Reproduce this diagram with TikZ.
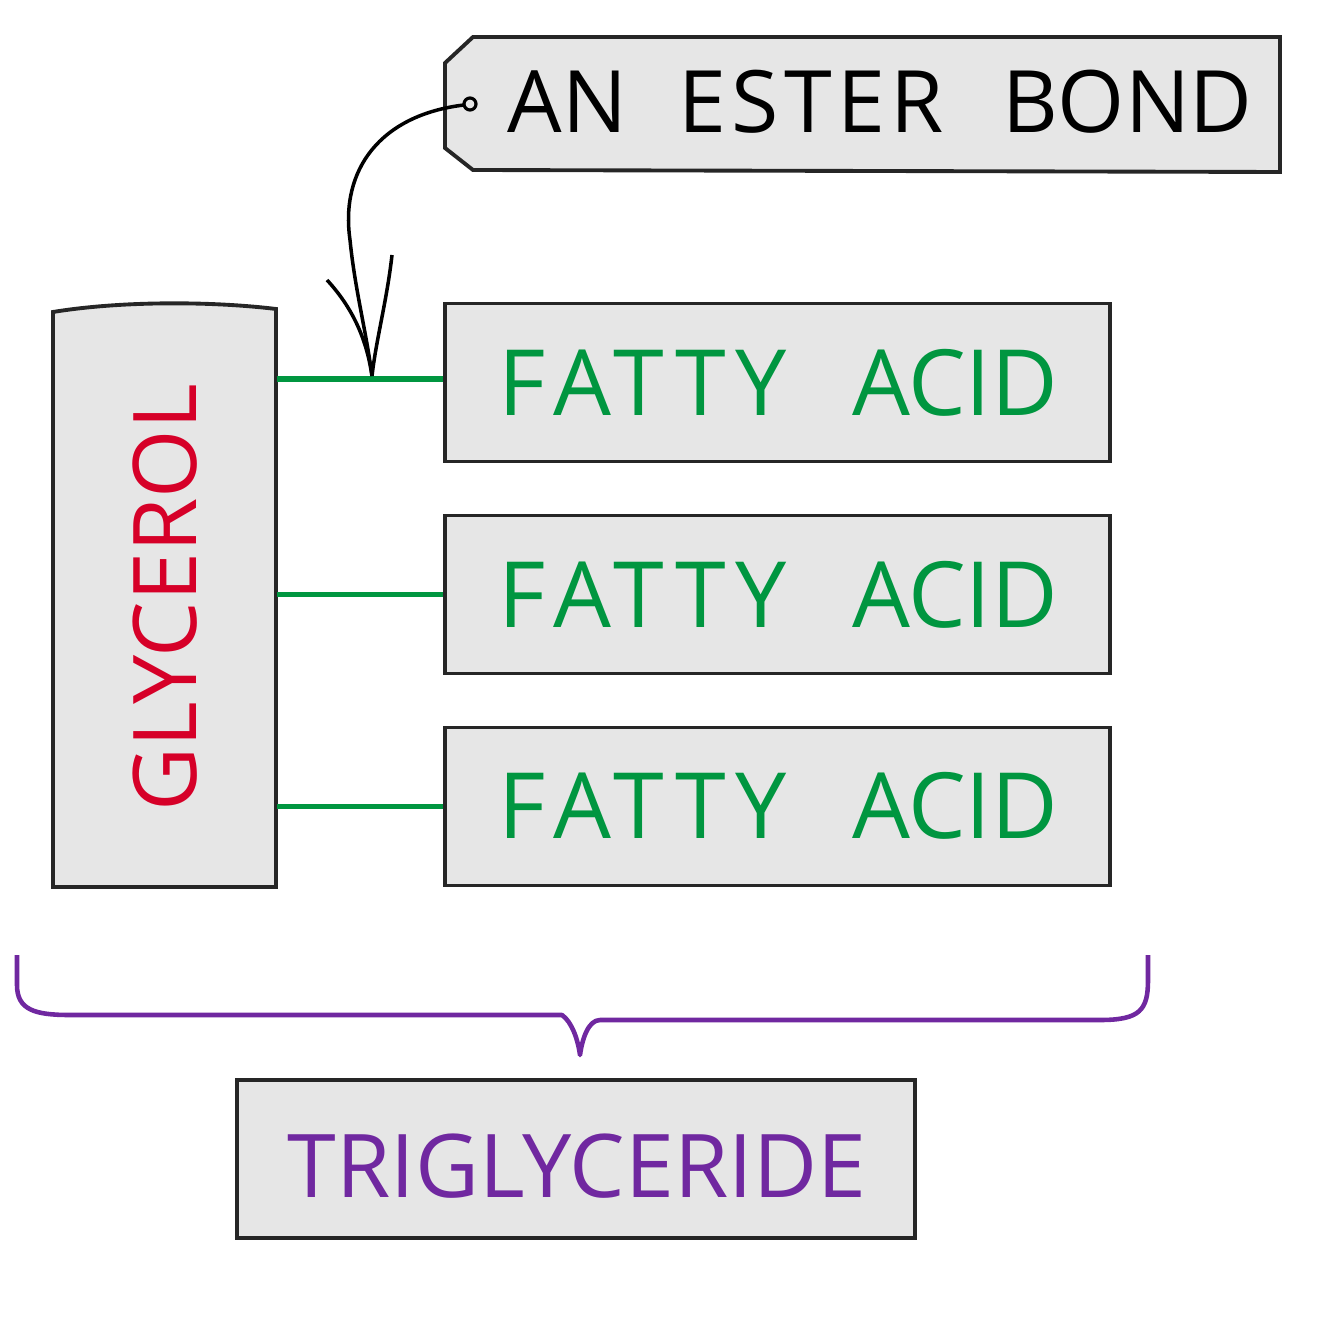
\documentclass[tikz,border=0pt]{standalone}
\usepackage{fontspec}
\setmainfont{Open Sans}
\definecolor{boxgray}{RGB}{230,230,230}
\definecolor{fagreen}{RGB}{0,150,64}
\definecolor{glred}{RGB}{214,0,40}
\definecolor{tgpurple}{RGB}{112,40,160}
\newcommand{\fattyacid}{{\addfontfeatures{LetterSpace=10}FATTY}\hspace{0.72em}ACID}
\tikzset{
  box/.style={draw=black!85, fill=boxgray, line width=1.1pt, inner sep=0pt},
  fabox/.style={box, minimum width=6.65cm, minimum height=1.58cm},
  fatext/.style={text=fagreen, font=\fontsize{26}{30}\selectfont, anchor=west, inner sep=0pt},
  bond/.style={draw=fagreen, line width=1.5pt},
  pointer/.style={draw=black, line width=1pt},
  brace/.style={draw=tgpurple, line width=1.3pt, line join=round}
}
\begin{document}
\begin{tikzpicture}[x=0.01cm,y=-0.01cm]
\useasboundingbox (0,0) rectangle (1334,1334);
% tag
\draw[box] (473,37) -- (1280,37) -- (1280,172) -- (473,170) -- (445,148) -- (445,63) -- cycle;
\node[font=\fontsize{24.5}{28}\selectfont, anchor=west, inner sep=0pt] (tag) at (507,102) {AN\hspace{0.6em}{\addfontfeatures{LetterSpace=6}ESTER}\hspace{0.68em}BOND};
\draw[line width=0.9pt] (470,104) circle[radius=6];
\coordinate (tagdot) at (464,105);
% glycerol
\draw[box] (53,312) .. controls (120,301) and (210,301) .. (276,309) -- (276,887) -- (53,887) -- cycle;
\node[minimum width=2.23cm, minimum height=5.8cm, inner sep=0pt] (glyc) at (164.5,598) {};
\node[rotate=90, text=glred, font=\fontsize{25}{30}\selectfont] (glyctext) at (165,598) {GLYCEROL};
% fatty acids
\node[fabox] (fa1) at (777.5,382.5) {};
\node[fatext] (fa1t) at (498,383) {\fattyacid};
\node[fabox] (fa2) at (777.5,594.5) {};
\node[fatext] (fa2t) at (498,595) {\fattyacid};
\node[fabox] (fa3) at (777.5,806.5) {};
\node[fatext] (fa3t) at (498,806) {\fattyacid};
% bonds
\draw[bond] (glyc.east |- 0,379) -- (fa1.west |- 0,379);
\draw[bond] (glyc.east |- fa2) -- (fa2.west);
\draw[bond] (glyc.east |- fa3) -- (fa3.west);
\coordinate (ester) at (372,376);
% pointer
\draw[pointer] (tagdot) .. controls (380,115) and (340,170) .. (350,240) .. controls (355,290) and (366,330) .. (ester);
\draw[pointer] (327,280) .. controls (350,305) and (366,335) .. (ester);
\draw[pointer] (392,255) .. controls (387,300) and (376,340) .. (ester);
% brace
\coordinate (brtip) at (580,1055);
\draw[brace] (17,955) -- (17,985) .. controls (17,1010) and (35,1015) .. (70,1015) -- (562,1015) .. controls (572,1022) and (578,1040) .. (brtip) .. controls (582,1040) and (588,1020) .. (600,1020) -- (1100,1020) .. controls (1140,1020) and (1148,1010) .. (1148,980) -- (1148,955);
% triglyceride
\node[box, minimum width=6.78cm, minimum height=1.58cm] (tg) at (576,1159) {};
\node[text=tgpurple, font=\fontsize{25}{30}\selectfont] (tgt) at (577,1166) {TRIGLYCERIDE};
\end{tikzpicture}
\end{document}
